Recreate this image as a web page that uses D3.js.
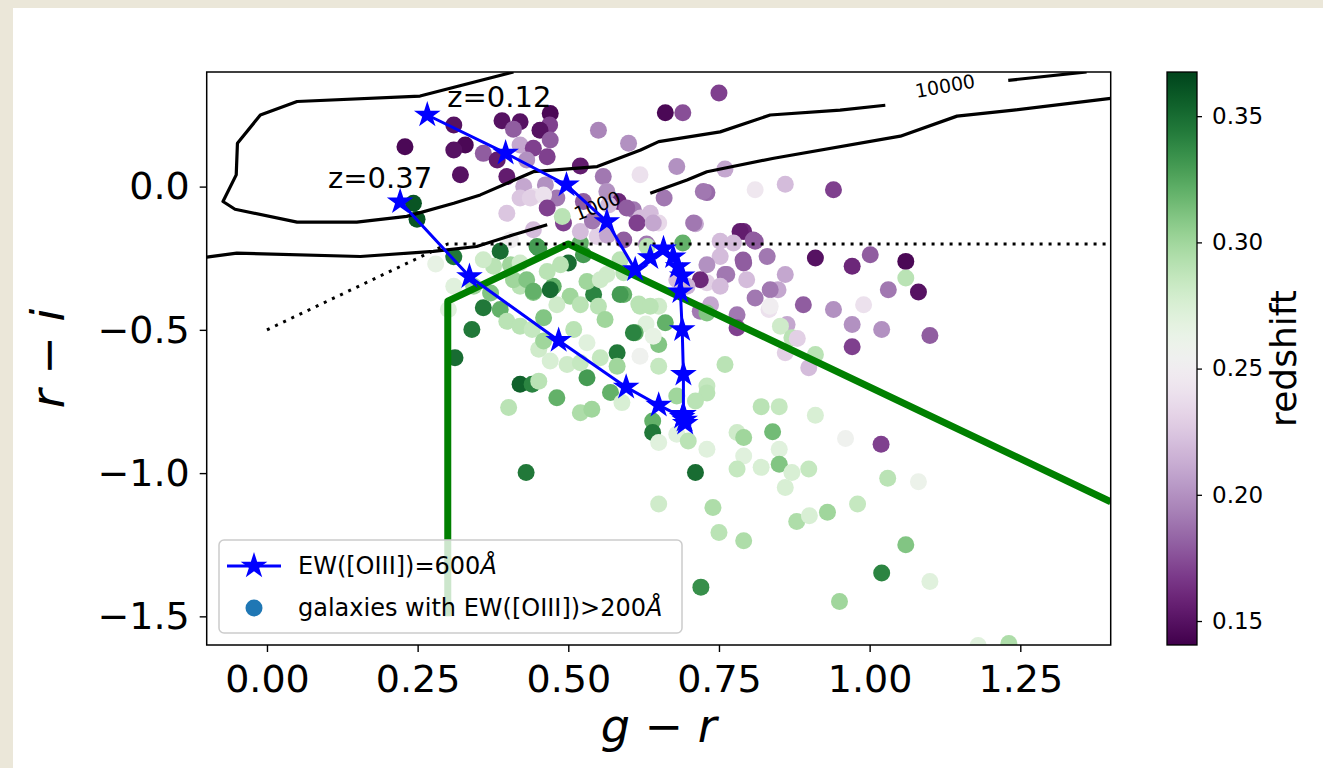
<!DOCTYPE html>
<html>
<head>
<meta charset="utf-8">
<script src="https://cdn.jsdelivr.net/npm/d3@7"></script>
<style>
body{margin:0;background:#ebe7d9;}
svg{display:block;font-family:"DejaVu Sans",sans-serif;}
</style>
</head>
<body>
<div id="chart"></div>
<script>
// galaxies: g-r, r-i, redshift
var galGR=[0.470,0.390,0.420,0.469,0.453,0.310,0.409,0.550,0.229,0.329,0.310,0.359,0.420,0.442,0.470,0.465,0.382,0.431,0.600,0.398,
0.321,0.520,0.558,0.619,0.462,0.426,0.481,0.398,0.420,0.442,0.492,0.525,0.583,0.608,0.620,0.548,0.565,0.404,0.442,0.243,
0.249,0.490,0.750,0.661,0.690,0.680,0.760,0.659,0.730,0.810,0.860,0.940,0.636,0.650,0.711,0.791,0.810,0.690,0.752,0.910,
0.971,1.001,1.060,1.060,1.081,1.031,0.860,0.760,0.790,0.730,0.848,0.835,0.890,0.940,0.990,0.971,1.020,1.100,0.971,0.810,
0.833,0.780,0.780,0.719,0.863,0.852,0.871,0.880,0.910,0.860,0.899,0.760,0.730,0.730,0.711,0.680,0.650,0.661,0.650,0.650,
0.617,0.629,0.640,0.640,0.650,0.680,0.699,0.711,0.730,0.780,0.791,0.820,0.850,0.910,0.839,0.850,0.850,0.791,0.780,0.820,
0.871,0.899,0.960,1.019,1.030,1.081,0.860,0.650,0.740,0.750,0.791,0.879,0.900,0.930,0.980,1.060,1.020,1.100,0.950,0.720,
1.231,1.180,0.430,0.340,0.312,0.301,0.359,0.387,0.398,0.420,0.440,0.459,0.420,0.440,0.451,0.481,0.401,0.520,0.539,0.531,
0.581,0.570,0.451,0.470,0.498,0.520,0.553,0.581,0.589,0.542,0.550,0.561,0.592,0.611,0.619,0.641,0.503,0.520,0.475,0.442,
0.420,0.481,0.459,0.509,0.531,0.619,0.387,0.404,0.451,0.500,0.520,0.525,0.409,0.431,0.442,0.470,0.465,0.487,0.531,0.586,
0.564,0.592,0.608,0.636,0.614,0.597,0.567,0.592,0.437,0.459,0.465,0.520,0.540,0.641,0.708,0.724,0.785,0.807,0.774,0.752,
0.730,0.763,0.791,0.752,0.736,0.835,0.730,0.719,0.630,0.564,0.448,0.376,0.420,0.343,0.310,0.359,0.371,0.631,0.586,0.553,
0.280,0.830,0.796,0.680,0.697,0.310]
var galRI=[0.255,0.230,0.226,0.215,0.197,0.215,0.200,0.197,0.139,0.145,0.128,0.116,0.145,0.134,0.163,0.104,0.093,0.093,0.151,0.035,
0.041,0.072,0.035,0.041,0.006,0.000,-0.040,-0.093,-0.040,-0.035,-0.127,-0.052,-0.052,-0.081,-0.110,-0.174,-0.170,-0.186,-0.151,-0.058,
-0.114,-0.104,0.327,0.258,0.258,0.070,0.061,-0.040,-0.021,-0.011,0.008,-0.011,-0.093,-0.127,-0.130,-0.157,-0.191,-0.197,-0.191,-0.249,
-0.278,-0.238,-0.261,-0.319,-0.368,-0.360,-0.307,-0.307,-0.256,-0.336,-0.360,-0.360,-0.412,-0.429,-0.412,-0.481,-0.499,-0.520,-0.559,-0.389,
-0.429,-0.447,-0.493,-0.435,-0.481,-0.487,-0.528,-0.530,-0.586,-0.580,-0.632,-0.621,-0.696,-0.720,-0.748,-0.731,-0.418,-0.475,-0.551,-0.627,
-0.410,-0.480,-0.818,-0.858,-0.893,-0.864,-0.888,-0.998,-0.917,-0.858,-0.876,-0.768,-0.768,-0.798,-0.856,-0.917,-0.969,-0.940,-0.986,-0.980,
-0.998,-0.986,-0.879,-0.899,-1.018,-1.030,-1.050,-1.108,-1.120,-1.207,-1.236,-1.169,-1.149,-1.137,-1.108,-1.250,-1.349,-1.378,-1.448,-1.398,
-1.595,-1.602,-0.998,-0.499,-0.597,-0.429,-0.423,-0.429,-0.470,-0.487,-0.499,-0.458,-0.690,-0.690,-0.679,-0.737,-0.771,-0.789,-0.777,-0.667,
-0.580,-0.719,-0.568,-0.609,-0.621,-0.615,-0.597,-0.627,-0.754,-0.377,-0.418,-0.464,-0.377,-0.510,-0.418,-0.522,-0.383,-0.412,-0.348,-0.370,
-0.348,-0.412,-0.539,-0.499,-0.545,-0.592,-0.226,-0.273,-0.215,-0.267,-0.197,-0.238,-0.325,-0.325,-0.365,-0.360,-0.296,-0.273,-0.331,-0.377,
-0.307,-0.301,-0.510,-0.418,-0.127,-0.075,-0.064,-0.186,-0.040,-0.029,-0.075,-0.157,-0.120,-0.127,-0.127,-0.017,-0.157,-0.186,-0.197,-0.244,
-0.273,-0.307,-0.267,-0.348,-0.412,-0.418,-0.441,-0.325,-0.200,-0.017,-0.209,-0.278,-0.267,-0.348,-0.348,-0.255,-0.371,-0.209,-0.255,-0.325,
-0.270,-0.244,-0.325,-0.325,-0.348,-0.245]
var galZ=[0.145,0.150,0.150,0.170,0.150,0.150,0.180,0.195,0.145,0.145,0.150,0.180,0.210,0.170,0.180,0.170,0.155,0.200,0.200,0.155,
0.150,0.155,0.190,0.240,0.200,0.210,0.190,0.225,0.225,0.240,0.170,0.180,0.160,0.190,0.220,0.230,0.210,0.250,0.220,0.360,
0.360,0.290,0.170,0.145,0.175,0.200,0.210,0.190,0.185,0.245,0.220,0.170,0.220,0.235,0.210,0.160,0.180,0.320,0.220,0.150,
0.160,0.180,0.145,0.290,0.150,0.190,0.210,0.190,0.180,0.230,0.210,0.190,0.180,0.200,0.240,0.200,0.200,0.180,0.170,0.190,
0.240,0.190,0.170,0.190,0.210,0.280,0.290,0.230,0.290,0.230,0.220,0.290,0.285,0.290,0.290,0.300,0.280,0.320,0.310,0.285,
0.290,0.270,0.320,0.345,0.270,0.270,0.290,0.350,0.270,0.280,0.300,0.290,0.285,0.275,0.315,0.270,0.310,0.270,0.285,0.275,
0.275,0.285,0.255,0.170,0.290,0.260,0.275,0.280,0.295,0.290,0.295,0.295,0.275,0.300,0.285,0.310,0.340,0.270,0.300,0.335,
0.295,0.270,0.345,0.345,0.350,0.270,0.345,0.320,0.290,0.290,0.285,0.310,0.355,0.340,0.290,0.320,0.290,0.295,0.300,0.330,
0.345,0.320,0.280,0.275,0.280,0.285,0.285,0.300,0.275,0.340,0.290,0.300,0.320,0.320,0.290,0.265,0.300,0.290,0.320,0.310,
0.290,0.280,0.300,0.290,0.270,0.255,0.350,0.300,0.330,0.350,0.320,0.330,0.300,0.310,0.320,0.350,0.290,0.290,0.300,0.330,
0.280,0.290,0.340,0.290,0.170,0.180,0.220,0.180,0.230,0.240,0.170,0.220,0.190,0.210,0.190,0.190,0.155,0.180,0.220,0.220,
0.200,0.190,0.180,0.220,0.210,0.250,0.310,0.160,0.190,0.200,0.330,0.290,0.280,0.300,0.270,0.280,0.310,0.290,0.290,0.280,
0.265,0.190,0.220,0.220,0.215,0.345]

// EW([OIII])=600A track, z = 0.12 ... 0.37
var trackGR=[0.266,0.396,0.497,0.564,0.611,0.636,0.658,0.674,0.682,0.689,0.686,0.689,0.691,0.691,0.693,0.694,0.689,0.650,0.596,0.484,0.336,0.221]
var trackRI=[0.250,0.117,0.006,-0.122,-0.290,-0.248,-0.217,-0.245,-0.279,-0.311,-0.367,-0.499,-0.655,-0.795,-0.815,-0.826,-0.805,-0.763,-0.700,-0.537,-0.314,-0.053]

// density contours (each piece ends where the inline label cuts it)
var contour10000=[
  [[0.409,0.40],[0.254,0.316],[0.050,0.297],[-0.011,0.250],[-0.049,0.151],[-0.051,0.041],[-0.073,-0.052],[-0.053,-0.079],[0.050,-0.124],[0.149,-0.124],[0.232,-0.104],[0.310,-0.058],[0.354,-0.029],[0.442,0.052],[0.548,0.070],[0.620,0.128],[0.650,0.157],[0.752,0.191],[0.835,0.250],[0.951,0.267],[1.026,0.284]],
  [[1.230,0.371],[1.36,0.40]]
]
var contour1000=[
  [[-0.10,-0.246],[-0.050,-0.232],[0.155,-0.244],[0.276,-0.226],[0.348,-0.209],[0.409,-0.168],[0.465,-0.133]],
  [[0.636,-0.023],[0.697,0.023],[0.730,0.052],[0.841,0.099],[1.051,0.176],[1.145,0.246],[1.239,0.267],[1.40,0.308]]
]
var contourLabels=["1000","10000"]
var contourLabelPos=[[0.548,-0.066],[1.125,0.352]]
var contourLabelAngle=[-22,-10]

// selection cuts
var dottedCut=[[0.0,-0.5],[0.3,-0.2],[1.4,-0.2]]
var greenBox=[[0.3,-1.5],[0.3,-0.4],[0.5,-0.2],[1.4,-1.1]]

var xTicks=[0,0.25,0.5,0.75,1.0,1.25]
var yTicks=[0,-0.5,-1.0,-1.5]
var zTicks=[0.15,0.20,0.25,0.30,0.35]
var zDomain=[0.1405,0.3675]

var W=1323,H=768
var plot={left:206.7,right:1110.7,top:72,bottom:645}

var svg=d3.select("#chart").append("svg").attr("width",W).attr("height",H)
svg.append("rect").attr("width",W).attr("height",H).attr("fill","#ebe7d9")
svg.append("rect").attr("x",13).attr("y",8).attr("width",W-13).attr("height",H-8).attr("fill","#fff")

var x=d3.scaleLinear().domain([-0.1,1.4]).range([plot.left,plot.right])
var y=d3.scaleLinear().domain([-1.6,0.4]).range([plot.bottom,plot.top])
var color=d3.scaleSequential(d3.interpolatePRGn).domain(zDomain)

svg.append("clipPath").attr("id","clip").append("rect")
	.attr("x",plot.left).attr("y",plot.top)
	.attr("width",plot.right-plot.left).attr("height",plot.bottom-plot.top)

var g=svg.append("g").attr("clip-path","url(#clip)")

// galaxies
var gal=d3.range(galGR.length).map(function(i){return {gr:galGR[i],ri:galRI[i],z:galZ[i]}})
g.selectAll("circle.gal")
	.data(gal)
	.enter()
	.append("circle")
	.attr("class","gal")
	.attr("cx",d=>x(d.gr))
	.attr("cy",d=>y(d.ri))
	.attr("r",8.5)
	.attr("fill",d=>color(d.z))

var line=d3.line().x(d=>x(d[0])).y(d=>y(d[1]))

// contours
g.selectAll("path.cont")
	.data(contour10000.concat(contour1000))
	.enter()
	.append("path")
	.attr("class","cont")
	.attr("d",line)
	.attr("fill","none")
	.attr("stroke","#000")
	.attr("stroke-width",3.2)
	.attr("stroke-linejoin","round")
contourLabels.forEach(function(t,i){
	var p=contourLabelPos[i]
	g.append("text")
		.attr("transform","translate("+x(p[0])+","+y(p[1])+") rotate("+contourLabelAngle[i]+")")
		.attr("text-anchor","middle")
		.attr("dominant-baseline","central")
		.attr("font-size",19)
		.text(t)
})

// cuts
g.append("path").attr("d",line(greenBox))
	.attr("fill","none").attr("stroke","#008000").attr("stroke-width",7).attr("stroke-linejoin","round")
g.append("path").attr("d",line(dottedCut))
	.attr("fill","none").attr("stroke","#000").attr("stroke-width",3).attr("stroke-dasharray","3,6")

// track
var track=trackGR.map((v,i)=>[v,trackRI[i]])
g.append("path").attr("d",line(track))
	.attr("fill","none").attr("stroke","#0000ff").attr("stroke-width",3)
var star=d3.symbol().type(d3.symbolStar).size(220)
g.selectAll("path.star")
	.data(track)
	.enter()
	.append("path")
	.attr("class","star")
	.attr("d",star)
	.attr("transform",d=>"translate("+x(d[0])+","+y(d[1])+")")
	.attr("fill","#0000ff")

svg.append("text").attr("x",x(trackGR[0])+20).attr("y",y(trackRI[0])-8)
	.attr("font-size",29).text("z=0.12")
svg.append("text").attr("x",x(trackGR[trackGR.length-1])-20).attr("y",y(trackRI[trackRI.length-1])-14)
	.attr("font-size",29).attr("text-anchor","middle").text("z=0.37")

// frame
svg.append("rect").attr("x",plot.left).attr("y",plot.top)
	.attr("width",plot.right-plot.left).attr("height",plot.bottom-plot.top)
	.attr("fill","none").attr("stroke","#000").attr("stroke-width",1.5)

// axes
var xAxis=svg.append("g").attr("transform","translate(0,"+plot.bottom+")")
	.call(d3.axisBottom(x).tickValues(xTicks).tickFormat(d3.format(".2f")).tickSize(7).tickPadding(13).tickSizeOuter(0))
var yAxis=svg.append("g").attr("transform","translate("+plot.left+",0)")
	.call(d3.axisLeft(y).tickValues(yTicks).tickFormat(d=>d3.format(".1f")(d).replace("-","\u2212")).tickSize(7).tickPadding(10).tickSizeOuter(0))
;[xAxis,yAxis].forEach(function(a){
	a.select(".domain").remove()
	a.selectAll("line").attr("stroke","#000").attr("stroke-width",1.4)
	a.selectAll("text").attr("font-size",38).attr("font-family","DejaVu Sans").attr("fill","#000")
})

var xl=svg.append("text").attr("x",(plot.left+plot.right)/2).attr("y",742)
	.attr("text-anchor","middle").attr("font-size",46)
xl.append("tspan").attr("font-style","italic").text("g")
xl.append("tspan").text(" \u2212 ")
xl.append("tspan").attr("font-style","italic").text("r")
var yl=svg.append("text").attr("transform","translate(64,"+(plot.top+plot.bottom)/2+") rotate(-90)")
	.attr("text-anchor","middle").attr("font-size",46)
yl.append("tspan").attr("font-style","italic").text("r")
yl.append("tspan").text(" \u2212 ")
yl.append("tspan").attr("font-style","italic").text("i")

// colorbar
var cb={x:1167,w:30}
var zy=d3.scaleLinear().domain(zDomain).range([plot.bottom,plot.top])
var grad=svg.append("defs").append("linearGradient").attr("id","cbgrad")
	.attr("x1",0).attr("y1",1).attr("x2",0).attr("y2",0)
grad.selectAll("stop")
	.data(d3.range(0,1.0001,0.02))
	.enter()
	.append("stop")
	.attr("offset",d=>d)
	.attr("stop-color",d=>d3.interpolatePRGn(d))
svg.append("rect").attr("x",cb.x).attr("y",plot.top).attr("width",cb.w).attr("height",plot.bottom-plot.top)
	.attr("fill","url(#cbgrad)").attr("stroke","#000").attr("stroke-width",1.3)
var zAxis=svg.append("g").attr("transform","translate("+(cb.x+cb.w)+",0)")
	.call(d3.axisRight(zy).tickValues(zTicks).tickFormat(d3.format(".2f")).tickSize(5).tickPadding(10).tickSizeOuter(0))
zAxis.select(".domain").remove()
zAxis.selectAll("line").attr("stroke","#000").attr("stroke-width",1.3)
zAxis.selectAll("text").attr("font-size",23).attr("font-family","DejaVu Sans").attr("fill","#000")
svg.append("text").attr("transform","translate(1296,"+(plot.top+plot.bottom)/2+") rotate(-90)")
	.attr("text-anchor","middle").attr("font-size",36).text("redshift")

// legend
var lg=svg.append("g")
lg.append("rect").attr("x",219).attr("y",540).attr("width",463).attr("height",93).attr("rx",5)
	.attr("fill","#fff").attr("fill-opacity",0.8).attr("stroke","#cccccc").attr("stroke-width",1.5)
lg.append("line").attr("x1",227).attr("x2",281).attr("y1",566).attr("y2",566)
	.attr("stroke","#0000ff").attr("stroke-width",3)
lg.append("path").attr("d",star).attr("transform","translate(254,566)").attr("fill","#0000ff")
var t1=lg.append("text").attr("x",298).attr("y",574).attr("font-size",24)
t1.append("tspan").text("EW([OIII])=600")
t1.append("tspan").attr("font-style","italic").text("\u00c5")
lg.append("circle").attr("cx",254).attr("cy",608).attr("r",8.5).attr("fill","#1f77b4")
var t2=lg.append("text").attr("x",298).attr("y",616).attr("font-size",24)
t2.append("tspan").text("galaxies with EW([OIII])>200")
t2.append("tspan").attr("font-style","italic").text("\u00c5")
</script>
</body>
</html>
